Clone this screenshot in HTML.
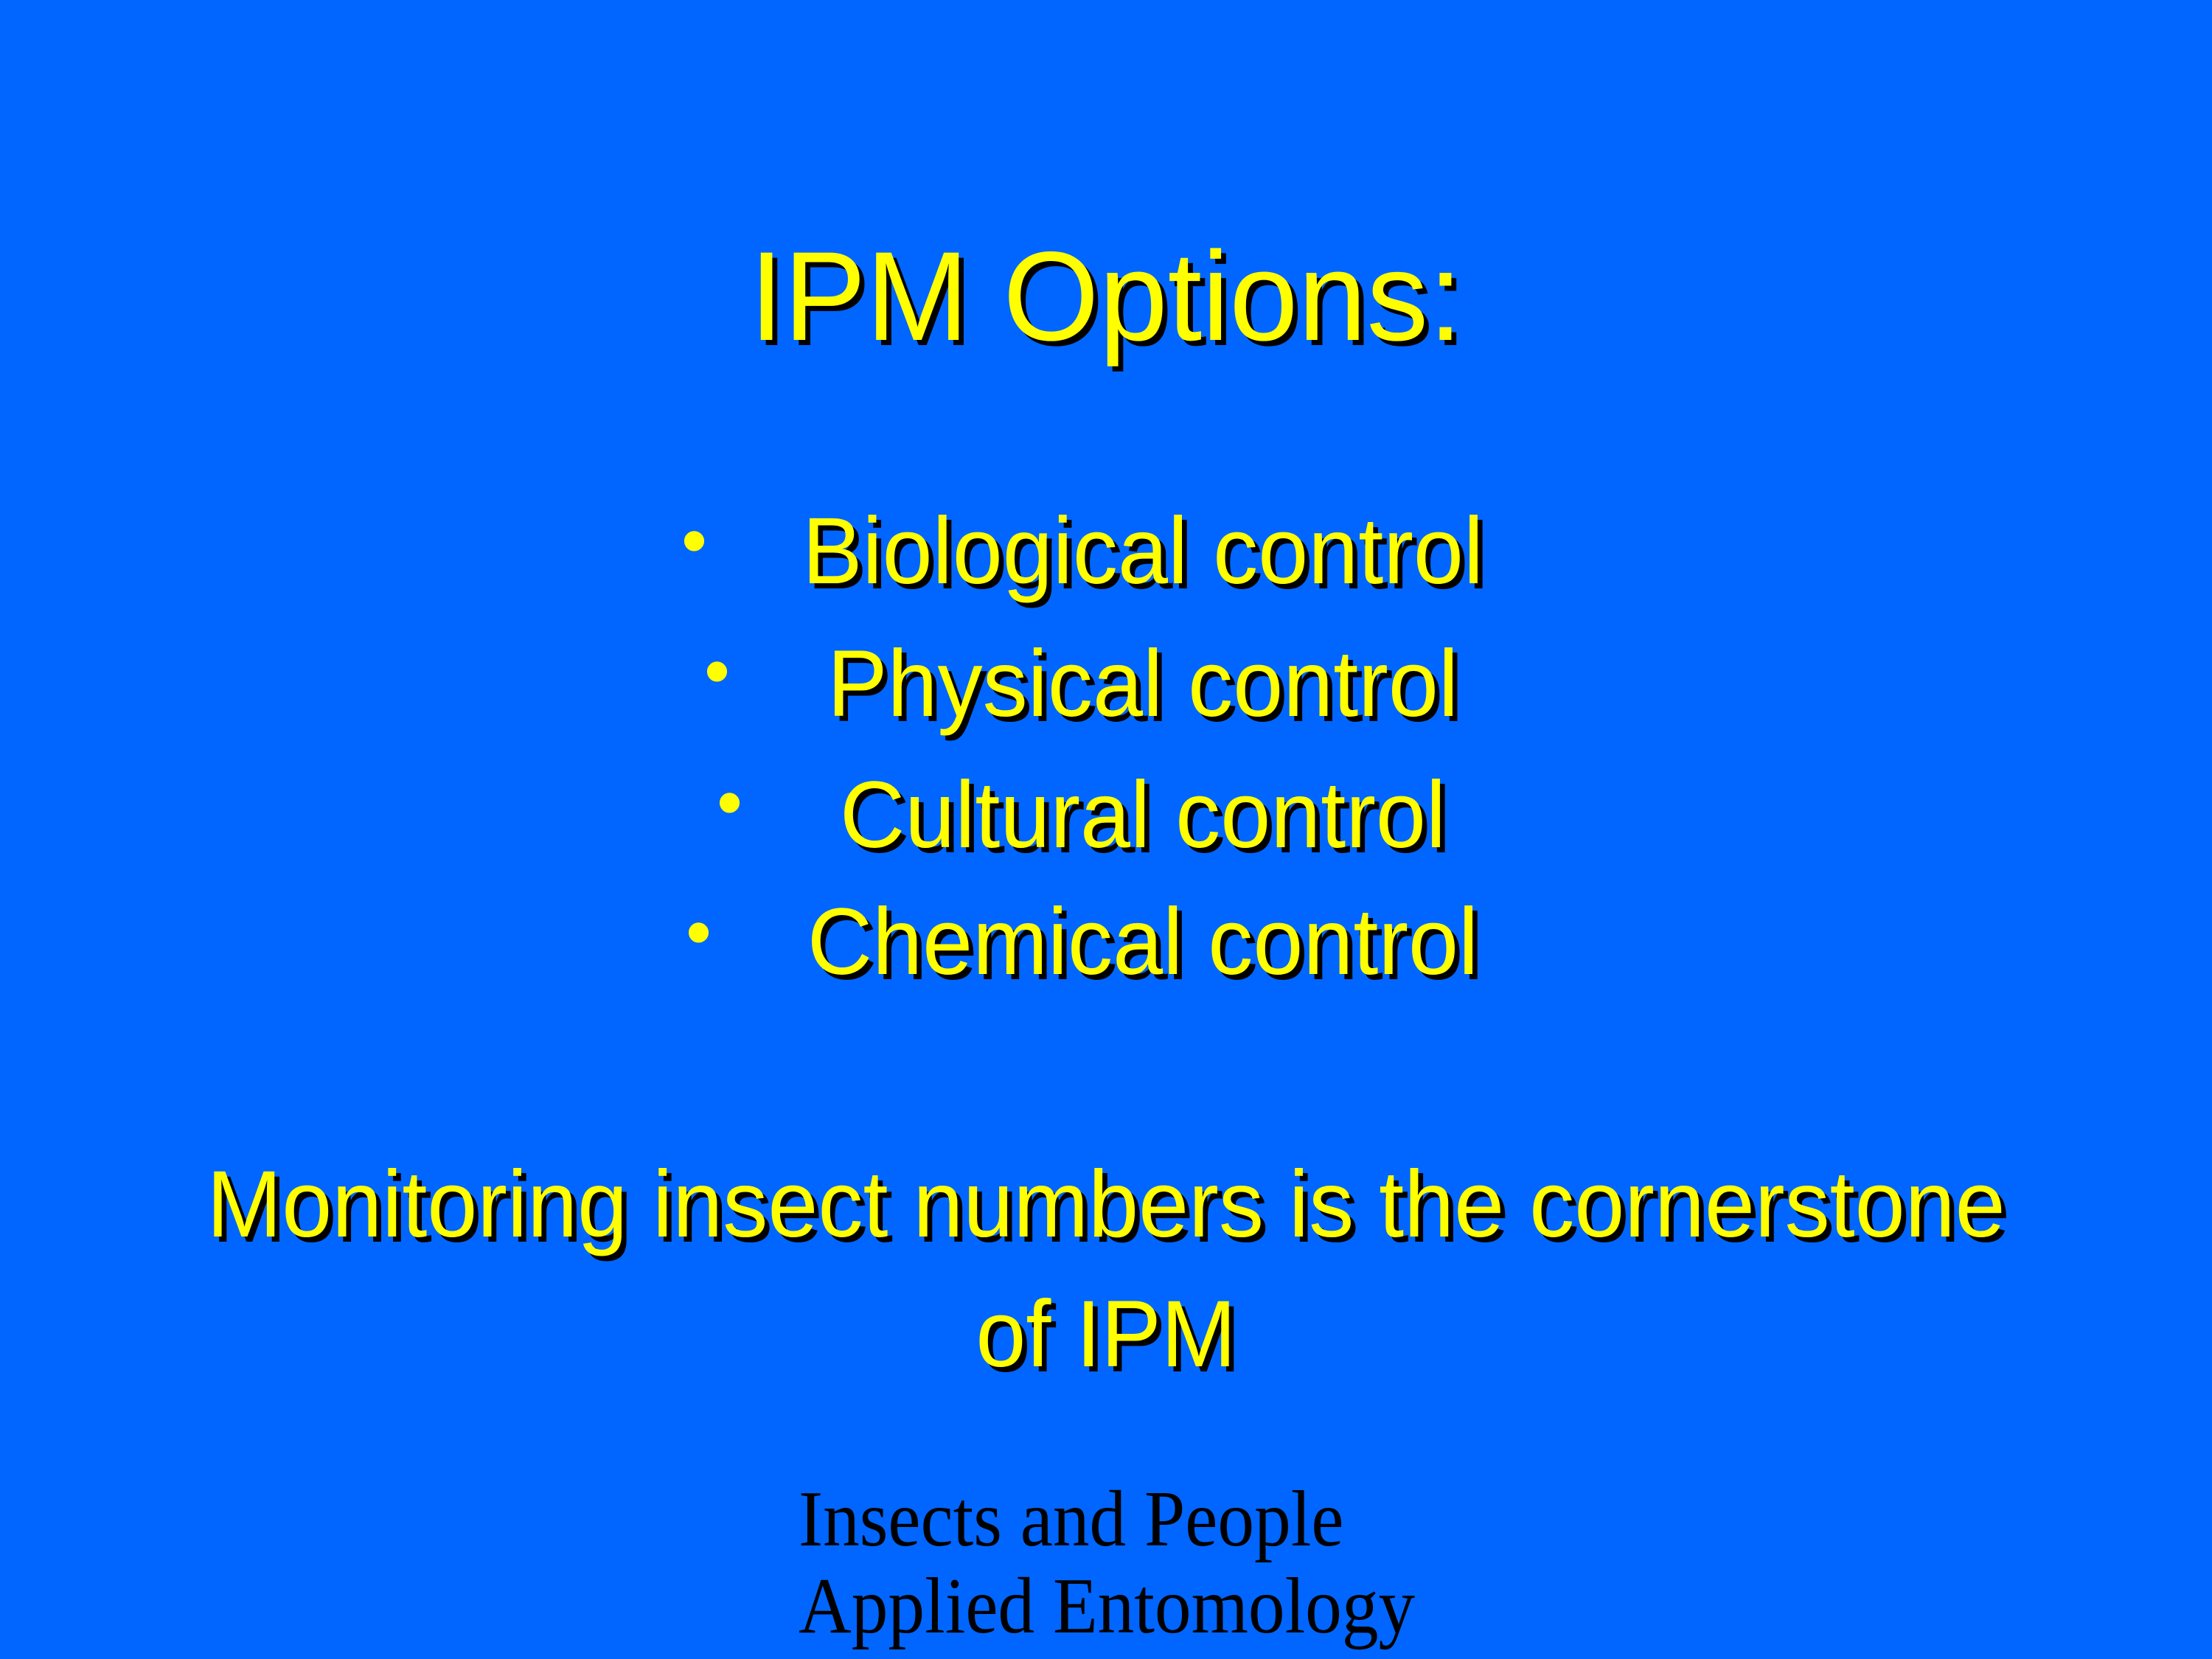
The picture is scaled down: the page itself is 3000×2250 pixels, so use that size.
<!DOCTYPE html>
<html><head><meta charset="utf-8"><style>
html,body{margin:0;padding:0}
body{width:3000px;height:2250px;background:#0066FF;position:relative;overflow:hidden;font-family:"Liberation Sans",sans-serif}
.t{position:absolute;left:0;width:3000px;text-align:center;color:#FFFF00;line-height:normal;white-space:nowrap;text-shadow:7px 7px 0 #000;transform-origin:center top}
.b{position:absolute;color:#FFFF00;font-size:100px;line-height:normal}
.f{position:absolute;left:1083px;font-family:"Liberation Serif",serif;font-size:108px;color:#000;line-height:normal;white-space:nowrap;transform:scaleX(0.92);transform-origin:left top}
</style></head><body>
<div class="t" style="top:303px;font-size:172px;transform:scaleX(0.973)">IPM Options:</div>
<div class="b" style="left:924px;top:676px">•</div>
<div class="t" style="top:674px;font-size:128px;left:50px;transform:scaleX(0.955)">Biological control</div>
<div class="b" style="left:955px;top:853px">•</div>
<div class="t" style="top:854px;font-size:128px;left:50px;transform:scaleX(0.955)">Physical control</div>
<div class="b" style="left:972px;top:1031px">•</div>
<div class="t" style="top:1032px;font-size:128px;left:50px;transform:scaleX(0.955)">Cultural control</div>
<div class="b" style="left:930px;top:1207px">•</div>
<div class="t" style="top:1204px;font-size:128px;left:50px;transform:scaleX(0.955)">Chemical control</div>
<div class="t" style="top:1560px;font-size:128px;transform:scaleX(0.955)">Monitoring insect numbers is the cornerstone</div>
<div class="t" style="top:1736px;font-size:128px;transform:scaleX(0.955)">of IPM</div>
<div class="f" style="top:1999px">Insects and People</div>
<div class="f" style="top:2117px">Applied Entomology</div>
</body></html>
